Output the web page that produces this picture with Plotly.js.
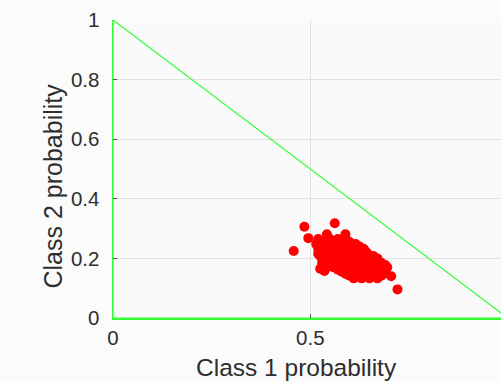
<!DOCTYPE html>
<html>
<head>
<meta charset="utf-8">
<script src="https://cdn.plot.ly/plotly-3.0.1.min.js"></script>
<style>html,body{margin:0;padding:0;background:#fbfbfb;overflow:hidden}#chart{width:501px;height:382px}</style>
</head>
<body>
<div id="chart"></div>
<script>
// Simplex boundary (triangle)
const simplexX = [0, 1, 0, 0];
const simplexY = [0, 0, 1, 0];

// Sample probabilities
const class1 = [
  0.458, 0.485, 0.562, 0.721, 0.495, 0.542, 0.589, 0.525, 0.536, 0.705, 0.690,
  0.520, 0.550, 0.570, 0.590,
  0.530, 0.545, 0.565, 0.585, 0.600,
  0.515, 0.530, 0.560, 0.580, 0.600, 0.615,
  0.525, 0.545, 0.570, 0.590, 0.610, 0.625,
  0.520, 0.540, 0.560, 0.580, 0.600, 0.620, 0.635,
  0.530, 0.545, 0.565, 0.585, 0.605, 0.625, 0.640,
  0.520, 0.535, 0.550, 0.570, 0.590, 0.610, 0.630, 0.645,
  0.525, 0.545, 0.560, 0.580, 0.595, 0.615, 0.635, 0.650, 0.660,
  0.530, 0.550, 0.570, 0.585, 0.600, 0.620, 0.640, 0.655, 0.670,
  0.540, 0.560, 0.575, 0.590, 0.610, 0.625, 0.640, 0.655, 0.670,
  0.530, 0.550, 0.570, 0.580, 0.600, 0.615, 0.630, 0.645, 0.660, 0.680,
  0.550, 0.570, 0.590, 0.605, 0.625, 0.645, 0.660, 0.675, 0.690,
  0.545, 0.560, 0.580, 0.595, 0.610, 0.620, 0.640, 0.655, 0.670, 0.685, 0.695,
  0.570, 0.590, 0.610, 0.625, 0.640, 0.655, 0.670, 0.685,
  0.580, 0.600, 0.615, 0.630, 0.645, 0.660, 0.675, 0.690,
  0.590, 0.610, 0.625, 0.640, 0.655, 0.670, 0.685,
  0.600, 0.620, 0.635, 0.650, 0.665, 0.680,
  0.610, 0.630, 0.650, 0.670
];
const class2 = [
  0.225, 0.306, 0.318, 0.096, 0.268, 0.281, 0.281, 0.165, 0.158, 0.140, 0.150,
  0.265, 0.265, 0.265, 0.265,
  0.255, 0.255, 0.255, 0.255, 0.255,
  0.248, 0.248, 0.248, 0.248, 0.248, 0.248,
  0.240, 0.240, 0.240, 0.240, 0.240, 0.240,
  0.232, 0.232, 0.232, 0.232, 0.232, 0.232, 0.232,
  0.224, 0.224, 0.224, 0.224, 0.224, 0.224, 0.224,
  0.216, 0.216, 0.216, 0.216, 0.216, 0.216, 0.216, 0.216,
  0.208, 0.208, 0.208, 0.208, 0.208, 0.208, 0.208, 0.208, 0.208,
  0.200, 0.200, 0.200, 0.200, 0.200, 0.200, 0.200, 0.200, 0.200,
  0.192, 0.192, 0.192, 0.192, 0.192, 0.192, 0.192, 0.192, 0.192,
  0.185, 0.185, 0.185, 0.185, 0.185, 0.185, 0.185, 0.185, 0.185, 0.185,
  0.178, 0.178, 0.178, 0.178, 0.178, 0.178, 0.178, 0.178, 0.178,
  0.172, 0.170, 0.170, 0.170, 0.170, 0.170, 0.170, 0.170, 0.170, 0.170, 0.170,
  0.162, 0.162, 0.162, 0.162, 0.162, 0.162, 0.162, 0.162,
  0.155, 0.155, 0.155, 0.155, 0.155, 0.155, 0.155, 0.155,
  0.148, 0.148, 0.148, 0.148, 0.148, 0.148, 0.148,
  0.142, 0.142, 0.142, 0.142, 0.142, 0.142,
  0.133, 0.133, 0.133, 0.133
];

const xTicks = [0, 0.5];
const xTickText = ['0', '0.5'];
const yTicks = [0, 0.2, 0.4, 0.6, 0.8, 1];
const yTickText = ['0', '0.2', '0.4', '0.6', '0.8', '1'];

const green = '#33ff33';
const font = 'Liberation Sans, Arial, sans-serif';

const data = [
  {x: simplexX, y: simplexY, mode: 'lines', type: 'scatter',
   line: {color: green, width: 1.2}, hoverinfo: 'skip'},
  {x: class1, y: class2, mode: 'markers', type: 'scatter',
   marker: {color: '#ff0000', size: 10, line: {width: 0}}}
];

const layout = {
  width: 501, height: 382,
  margin: {l: 113, r: 0, t: 20, b: 64},
  paper_bgcolor: '#fbfbfb', plot_bgcolor: '#fafafa',
  showlegend: false,
  font: {family: font, color: '#2e2e2e', size: 20},
  xaxis: {
    range: [0, 0.9833], tickvals: xTicks, ticktext: xTickText,
    showgrid: true, gridcolor: '#e2e2e2', gridwidth: 1.3, zeroline: false,
    showline: true, linecolor: green, linewidth: 1.5,
    ticks: 'inside', ticklen: 4, tickcolor: '#555555', tickwidth: 1,
    tickfont: {size: 20.5, color: '#2e2e2e'}, ticklabelstandoff: 1
  },
  yaxis: {
    range: [0, 1], tickvals: yTicks, ticktext: yTickText,
    showgrid: true, gridcolor: '#e2e2e2', gridwidth: 1.3, zeroline: false,
    showline: true, linecolor: green, linewidth: 1.5,
    ticks: 'inside', ticklen: 4, tickcolor: '#555555', tickwidth: 1,
    tickfont: {size: 20.5, color: '#2e2e2e'}, ticklabelstandoff: 8
  },
  annotations: [
    {text: 'Class 1 probability', xref: 'paper', yref: 'paper',
     x: (296.5 - 113) / 388, y: -(367 - 318) / 298, xanchor: 'center', yanchor: 'middle',
     showarrow: false, font: {family: font, size: 24.5, color: '#2e2e2e'}},
    {text: 'Class 2 probability', xref: 'paper', yref: 'paper', textangle: -90,
     x: -(113 - 52) / 388, y: (318 - 186.5) / 298, xanchor: 'center', yanchor: 'middle',
     showarrow: false, font: {family: font, size: 25, color: '#2e2e2e'}}
  ]
};

Plotly.newPlot('chart', data, layout, {displayModeBar: false, staticPlot: true});
</script>
</body>
</html>
